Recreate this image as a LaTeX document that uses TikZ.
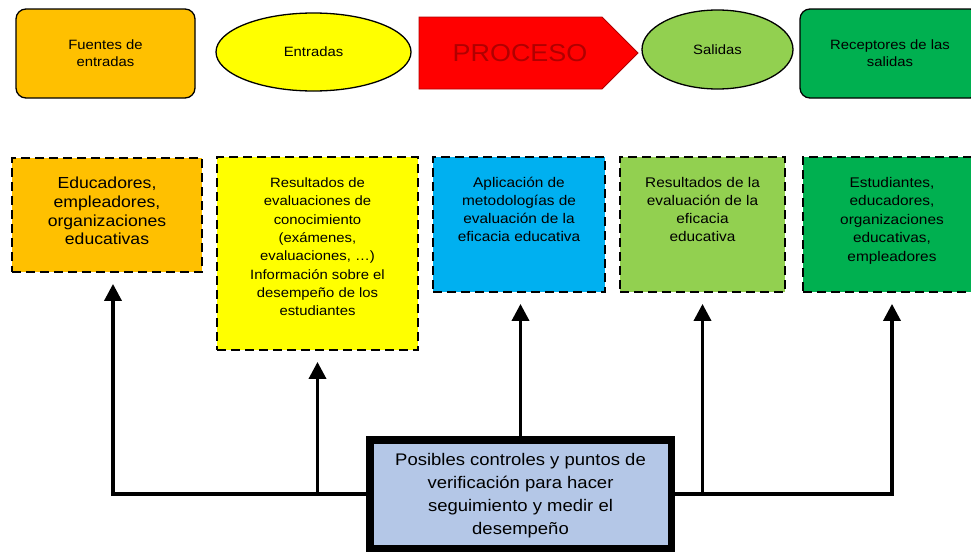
\documentclass[tikz,border=0pt]{standalone}
\usepackage{fontspec}
\setmainfont{Liberation Sans}[FakeStretch=1.1]
\usepackage{tikz}
\usetikzlibrary{arrows.meta,shapes.geometric}

\definecolor{srcorange}{HTML}{FFC000}
\definecolor{inyellow}{HTML}{FFFF00}
\definecolor{procred}{HTML}{FF0000}
\definecolor{proctext}{HTML}{B00000}
\definecolor{outgreen}{HTML}{92D050}
\definecolor{rcvgreen}{HTML}{00B050}
\definecolor{methblue}{HTML}{00B0F0}
\definecolor{ctrlblue}{HTML}{B4C7E7}

\tikzset{
  topbox/.style={draw, line width=1.3pt, inner sep=0pt, align=center,
    font=\fontsize{13.5}{17}\selectfont},
  dashbox/.style={draw, line width=1.8pt, dash pattern=on 9pt off 5pt, inner sep=0pt},
  cell/.style={anchor=north, inner sep=0pt, align=center,
    execute at begin node={\rule{0pt}{0.95em}}},
  ctrlbox/.style={draw, line width=7.5pt, fill=ctrlblue, inner sep=0pt, align=center,
    text depth=0pt, font=\fontsize{16.8}{22.8}\selectfont},
  link/.style={->, line width=3.5pt, shorten >=11pt}
}

\begin{document}
\begin{tikzpicture}[x=1pt,y=-1pt,>={Triangle[width=17pt,length=17pt]}]
  \clip (0,0) rectangle (971,552);
  \fill[white] (0,0) rectangle (971,552);

  % top row
  \node[topbox, rounded corners=10pt, fill=srcorange, minimum width=179pt, minimum height=89pt]
    (src) at (105.5,53.5) {Fuentes de\\entradas};
  \node[topbox, ellipse, fill=inyellow, minimum width=195pt, minimum height=78pt]
    (inp) at (313.5,52) {Entradas};
  % process arrow
  \filldraw[fill=procred, draw=proctext, line width=0.8pt]
    (419,17) -- (602,17) -- (638,53) -- (602,89) -- (419,89) -- cycle;
  \node[inner sep=0pt, text=proctext, font=\fontsize{24.5}{28}\selectfont]
    (proc) at (520,53) {PROCESO};
  \node[topbox, ellipse, fill=outgreen, minimum width=151pt, minimum height=79pt]
    (out) at (717.5,49.5) {Salidas};
  \node[topbox, rounded corners=10pt, fill=rcvgreen, minimum width=180pt, minimum height=89pt]
    (rcv) at (890,53.5) {Receptores de las\\salidas};

  % dashed boxes
  \node[dashbox, fill=srcorange, minimum width=190pt, minimum height=114pt] (bOrange) at (107,215) {};
  \node[dashbox, fill=inyellow, minimum width=201pt, minimum height=193pt] (bYellow) at (317.5,253.5) {};
  \node[dashbox, fill=methblue, minimum width=172pt, minimum height=135pt] (bBlue) at (519,224.5) {};
  \node[dashbox, fill=outgreen, minimum width=165pt, minimum height=135pt] (bLGreen) at (702.5,224.5) {};
  \node[dashbox, fill=rcvgreen, minimum width=178pt, minimum height=135pt] (bGreen) at (892,224.5) {};

  % texts of the dashed boxes
  \node[cell, font=\fontsize{16}{18.7}\selectfont] (tOrange) at ([yshift=-20pt]bOrange.north)
    {Educadores,\\empleadores,\\organizaciones\\educativas};
  \node[cell, font=\fontsize{13.5}{18.3}\selectfont] (tYellow) at ([yshift=-21.5pt]bYellow.north)
    {Resultados de\\evaluaciones de\\conocimiento\\(exámenes,\\evaluaciones, …)\\Información sobre el\\desempeño de los\\estudiantes};
  \node[cell, font=\fontsize{14}{18}\selectfont] (tBlue) at ([yshift=-21pt]bBlue.north)
    {Aplicación de\\metodologías de\\evaluación de la\\eficacia educativa};
  \node[cell, font=\fontsize{14}{18}\selectfont] (tLGreen) at ([yshift=-21pt]bLGreen.north)
    {Resultados de la\\evaluación de la\\eficacia\\educativa};
  \node[cell, font=\fontsize{14}{18.5}\selectfont] (tGreen) at ([yshift=-21pt]bGreen.north)
    {Estudiantes,\\educadores,\\organizaciones\\educativas,\\empleadores};

  % control box
  \node[ctrlbox, minimum width=301.5pt, minimum height=108.5pt] (ctrl) at (520.5,494)
    {Posibles controles y puntos de\\verificación para hacer\\seguimiento y medir el\\desempeño};

  % connectors
  \draw[link] (ctrl.west) -| ([xshift=6pt]bOrange.south);
  \draw[link] (ctrl.east) -| (bGreen.south);
  \draw[link] (ctrl.north) -- (ctrl.north |- bBlue.south);
  \foreach \tgt in {bYellow, bLGreen}
  {
    \draw[link] (\tgt.south |- ctrl.west) -- (\tgt.south);
  }
\end{tikzpicture}
\end{document}
